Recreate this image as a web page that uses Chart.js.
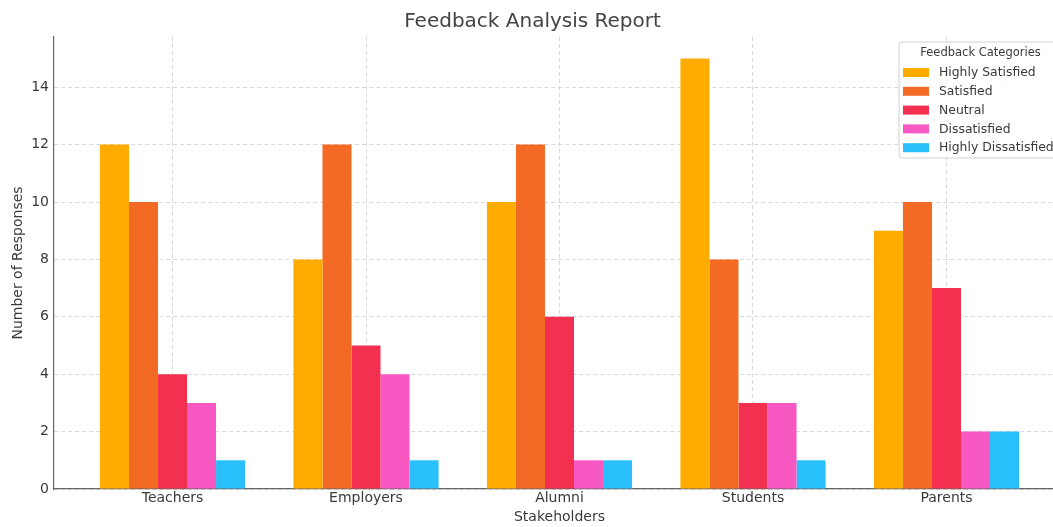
<!DOCTYPE html>
<html>
<head>
<meta charset="utf-8">
<title>Feedback Analysis Report</title>
<script src="https://cdn.jsdelivr.net/npm/chart.js@4.4.1/dist/chart.umd.min.js"></script>
<style>
    html, body { margin: 0; padding: 0; background: #fff; overflow: hidden; }
    #wrap { width: 1053px; height: 527px; overflow: hidden; }
</style>
</head>
<body>
<div id="wrap"><canvas id="myChart" width="1068" height="527"></canvas></div>
<script>
// Data
var stakeholders = ['Teachers', 'Employers', 'Alumni', 'Students', 'Parents'];
var categories = ['Highly Satisfied', 'Satisfied', 'Neutral', 'Dissatisfied', 'Highly Dissatisfied'];
var highlySatisfied = [12, 8, 10, 15, 9];
var satisfied = [10, 12, 12, 8, 10];
var neutral = [4, 5, 6, 3, 7];
var dissatisfied = [3, 4, 1, 3, 2];
var highlyDissatisfied = [1, 1, 1, 1, 2];
var yTicks = [0, 2, 4, 6, 8, 10, 12, 14];

var series = [highlySatisfied, satisfied, neutral, dissatisfied, highlyDissatisfied];
var colors = ['#ffab00', '#f26a24', '#f3304f', '#f858c2', '#29bffb'];
var textColor = '#3a3a3a';

var datasets = categories.map(function (name, i) {
    return {
        label: name,
        backgroundColor: colors[i],
        borderWidth: 0,
        data: series[i].map(function (v, j) { return { x: j, y: v }; })
    };
});

// Legend box like the original, top right of the plot
var legendBox = {
    id: 'legendBox',
    afterDraw: function (chart) {
        var ctx = chart.ctx;
        var left = 899, top = 42, right = 1062, bottom = 158;
        ctx.save();
        ctx.beginPath();
        ctx.roundRect(left, top, right - left, bottom - top, 3);
        ctx.fillStyle = 'rgba(255,255,255,0.85)';
        ctx.fill();
        ctx.strokeStyle = '#d0d0d0';
        ctx.lineWidth = 1;
        ctx.stroke();

        ctx.fillStyle = textColor;
        ctx.font = '11.5px "DejaVu Sans"';
        ctx.textAlign = 'center';
        ctx.textBaseline = 'middle';
        ctx.fillText('Feedback Categories', (left + right) / 2, 53);

        ctx.textAlign = 'left';
        ctx.font = '12.4px "DejaVu Sans"';
        chart.data.datasets.forEach(function (ds, i) {
            var y = 72.5 + i * 18.8;
            ctx.fillStyle = ds.backgroundColor;
            ctx.fillRect(903, y - 4.5, 26, 9);
            ctx.fillStyle = textColor;
            ctx.fillText(ds.label, 939, y + 0.5);
        });
        ctx.restore();
    }
};

var ctx = document.getElementById('myChart').getContext('2d');
var myChart = new Chart(ctx, {
    type: 'bar',
    data: { datasets: datasets },
    options: {
        responsive: false,
        animation: false,
        layout: { padding: { left: 0, right: 3, top: 0, bottom: 0 } },
        datasets: {
            bar: { categoryPercentage: 0.75, barPercentage: 1.0 }
        },
        plugins: {
            legend: { display: false },
            tooltip: { enabled: false },
            title: {
                display: true,
                text: 'Feedback Analysis Report',
                color: '#444',
                font: { family: 'DejaVu Sans', size: 20, weight: 'normal' },
                padding: { top: 10, bottom: 3 }
            }
        },
        scales: {
            x: {
                type: 'linear',
                min: -0.6125,
                max: 4.6125,
                offset: false,
                z: 1,
                afterBuildTicks: function (scale) {
                    scale.ticks = stakeholders.map(function (s, i) { return { value: i }; });
                },
                afterFit: function (scale) { scale.height = 38; },
                ticks: {
                    color: textColor,
                    font: { family: 'DejaVu Sans', size: 14 },
                    padding: 1,
                    autoSkip: false,
                    maxRotation: 0,
                    callback: function (value) { return stakeholders[value]; }
                },
                grid: {
                    offset: false,
                    drawTicks: false,
                    color: '#d9d9d9',
                    lineWidth: 1
                },
                border: { display: true, color: '#666', width: 1.2, dash: [4, 3] },
                title: {
                    display: true,
                    text: 'Stakeholders',
                    color: textColor,
                    font: { family: 'DejaVu Sans', size: 14 },
                    padding: { top: 0, bottom: 1 }
                }
            },
            y: {
                min: 0,
                max: 15.75,
                afterBuildTicks: function (scale) {
                    scale.ticks = yTicks.map(function (v) { return { value: v }; });
                },
                afterFit: function (scale) { scale.width = 54; },
                ticks: {
                    color: textColor,
                    font: { family: 'DejaVu Sans', size: 14 },
                    padding: 5
                },
                grid: {
                    drawTicks: false,
                    color: '#d9d9d9',
                    lineWidth: 1
                },
                border: { display: true, color: '#666', width: 1.2, dash: [4, 3] },
                title: {
                    display: true,
                    text: 'Number of Responses',
                    color: textColor,
                    font: { family: 'DejaVu Sans', size: 14 },
                    padding: { top: 10, bottom: 0 }
                }
            }
        }
    },
    plugins: [legendBox]
});
</script>
</body>
</html>
